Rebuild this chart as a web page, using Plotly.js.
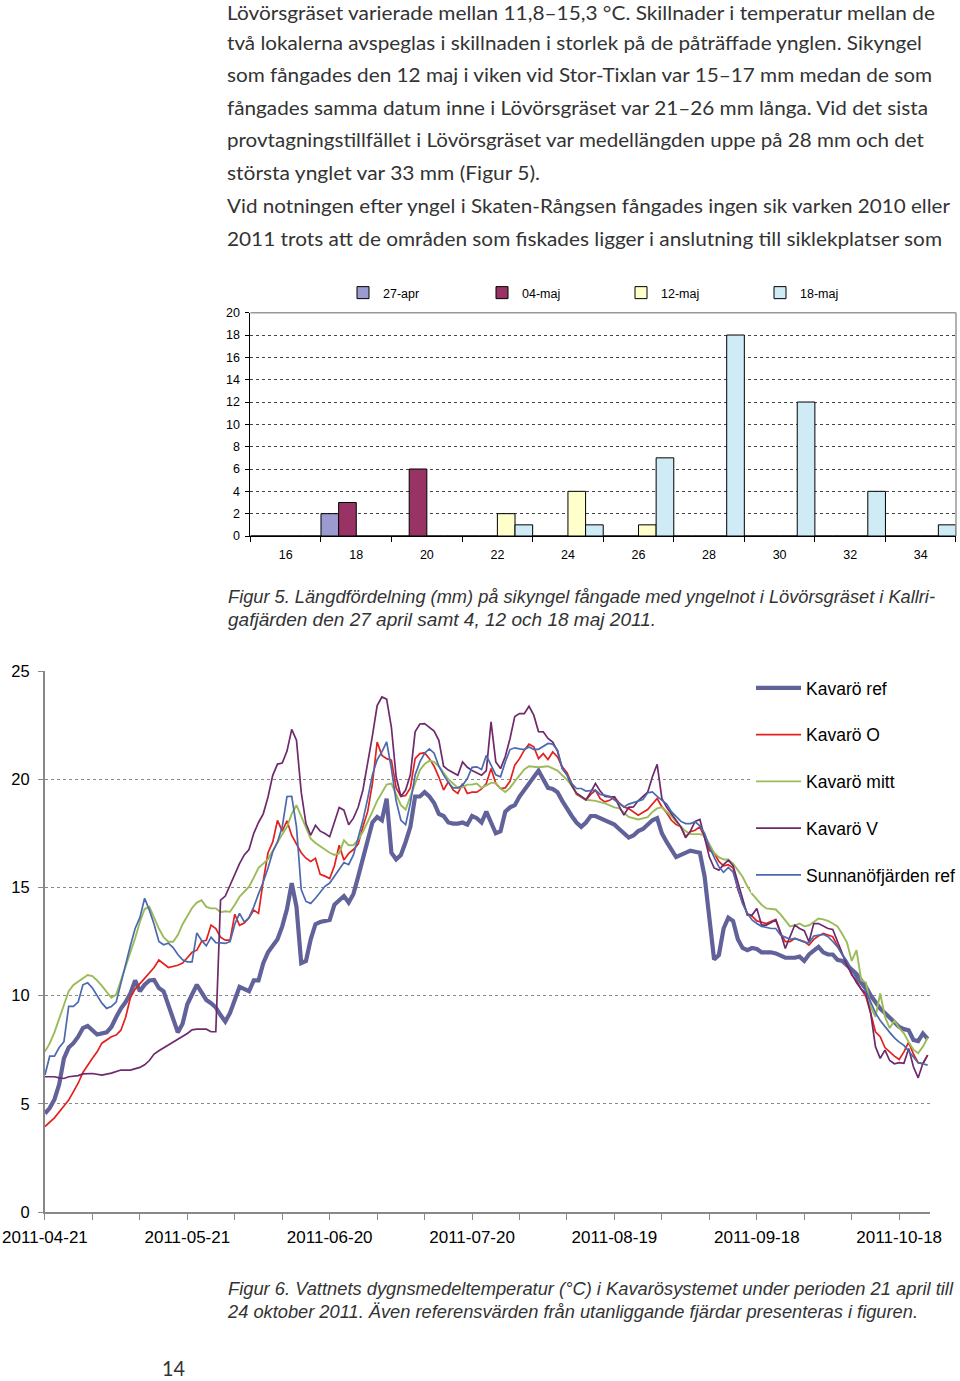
<!DOCTYPE html>
<html><head><meta charset="utf-8">
<script src="https://cdn.plot.ly/plotly-3.0.1.min.js"></script>
<style>
html,body{margin:0;padding:0;background:#fff;}
#page{position:relative;width:960px;height:1381px;overflow:hidden;background:#fff;}
#chart{position:absolute;left:0;top:0;width:960px;height:1381px;}
#txt{position:absolute;left:0;top:0;pointer-events:none;}
</style></head><body>
<div id="page"><div id="chart"></div>
<svg id="txt" width="960" height="1381" xmlns="http://www.w3.org/2000/svg">
 <g font-family="Lato, 'Liberation Sans', sans-serif" font-size="19.5" fill="#333">
  <text x="227" y="19.5" textLength="708" lengthAdjust="spacingAndGlyphs">Lövörsgräset varierade mellan 11,8–15,3 °C. Skillnader i temperatur mellan de</text>
  <text x="227" y="49.5" textLength="695" lengthAdjust="spacingAndGlyphs">två lokalerna avspeglas i skillnaden i storlek på de påträffade ynglen. Sikyngel</text>
  <text x="227" y="82" textLength="705" lengthAdjust="spacingAndGlyphs">som fångades den 12 maj i viken vid Stor-Tixlan var 15–17 mm medan de som</text>
  <text x="227" y="114.5" textLength="701" lengthAdjust="spacingAndGlyphs">fångades samma datum inne i Lövörsgräset var 21–26 mm långa. Vid det sista</text>
  <text x="227" y="147" textLength="697" lengthAdjust="spacingAndGlyphs">provtagningstillfället i Lövörsgräset var medellängden uppe på 28 mm och det</text>
  <text x="227" y="180" textLength="313" lengthAdjust="spacingAndGlyphs">största ynglet var 33 mm (Figur 5).</text>
  <text x="227" y="213" textLength="723" lengthAdjust="spacingAndGlyphs">Vid notningen efter yngel i Skaten-Rångsen fångades ingen sik varken 2010 eller</text>
  <text x="227" y="246" textLength="715" lengthAdjust="spacingAndGlyphs">2011 trots att de områden som fiskades ligger i anslutning till siklekplatser som</text>
 </g>
 <g font-family="'Liberation Sans', Arial, sans-serif" font-style="italic" font-size="18" fill="#333">
  <text x="228" y="603" textLength="707" lengthAdjust="spacingAndGlyphs">Figur 5. Längdfördelning (mm) på sikyngel fångade med yngelnot i Lövörsgräset i Kallri-</text>
  <text x="228" y="626" textLength="428" lengthAdjust="spacingAndGlyphs">gafjärden den 27 april samt 4, 12 och 18 maj 2011.</text>
  <text x="228" y="1295" textLength="725" lengthAdjust="spacingAndGlyphs">Figur 6. Vattnets dygnsmedeltemperatur (°C) i Kavarösystemet under perioden 21 april till</text>
  <text x="228" y="1318" textLength="690" lengthAdjust="spacingAndGlyphs">24 oktober 2011. Även referensvärden från utanliggande fjärdar presenteras i figuren.</text>
 </g>
 <text x="162" y="1376" font-family="Lato, 'Liberation Sans', sans-serif" font-size="20.5" fill="#333" textLength="23" lengthAdjust="spacingAndGlyphs">14</text>
</svg></div>
<script>
// ---------- Figur 5: length distribution (bars) ----------
const barCats = ['16','18','20','22','24','26','28','30','32','34'];
const apr27 = [0,2,0,0,0,0,0,0,0,0];
const maj04 = [0,3,6,0,0,0,0,0,0,0];
const maj12 = [0,0,0,2,4,1,0,0,0,0];
const maj18 = [0,0,0,1,1,7,18,12,4,1];
const barNames = ['27-apr','04-maj','12-maj','18-maj'];

// ---------- Figur 6: daily mean water temperature ----------
// day offsets from 2011-04-21
const refDays = [0,1,2,3,4,5,6,7,8,9,10,11,13,14,15,16,17,18,19,20,21,22,23,24,25,26,27,28,29,30,32,33,34,35,36,37,38,39,40,41,43,44,45,46,47,48,49,50,51,52,53,54,55,56,57,58,60,61,62,63,64,65,66,67,68,69,70,71,72,73,74,75,76,77,78,79,80,81,82,83,84,85,86,87,88,89,90,91,92,93,94,95,96,97,98,99,100,101,102,103,104,105,106,107,108,109,110,111,112,113,114,115,116,117,118,119,120,121,122,123,124,125,126,127,128,129,130,131,132,133,134,135,136,137,138,139,140,141,142,143,144,145,146,147,148,149,150,151,153,154,156,158,159,160,161,163,164,165,166,167,168,169,170,171,172,173,174,175,176,177,178,179,180,181,182,183,184,185,186];
const refVals = [4.55,4.8,5.2,5.9,7.1,7.6,7.8,8.1,8.5,8.6,8.4,8.2,8.3,8.55,9.0,9.4,9.7,10.1,10.7,10.2,10.5,10.7,10.72,10.35,10.2,9.6,8.9,8.3,8.7,9.6,10.5,10.1,9.8,9.65,9.45,9.1,8.8,9.2,9.8,10.4,10.2,10.7,10.7,11.5,12.0,12.3,12.6,13.2,14.0,15.2,14.1,11.5,11.6,12.6,13.3,13.4,13.5,14.2,14.4,14.6,14.3,14.7,15.5,16.4,17.2,18.0,18.25,18.1,19.1,16.6,16.3,16.5,17.1,17.8,19.2,19.2,19.4,19.2,18.9,18.4,18.3,18.0,17.95,17.95,18.0,17.9,18.3,18.2,18.0,18.5,18.0,17.5,17.6,18.5,18.7,18.8,19.2,19.5,19.8,20.1,20.4,20.0,19.6,19.55,19.4,19.0,18.6,18.3,18.0,17.8,18.0,18.3,18.3,18.2,18.05,18.0,17.9,17.7,17.5,17.3,17.4,17.6,17.7,17.9,18.1,18.2,17.5,17.1,16.7,16.4,16.5,16.6,16.7,16.65,16.6,15.5,13.6,11.67,11.87,13.1,13.6,13.45,12.6,12.2,12.1,12.2,12.15,12.0,12.0,11.95,11.75,11.75,11.8,11.6,11.9,12.25,12.0,11.9,11.9,11.65,11.6,11.4,11.2,11.0,10.7,10.4,10.0,9.7,9.4,9.2,9.0,8.75,8.55,8.45,8.4,7.95,7.9,8.25,8.0];

const oDays = [0,2,4,5,7,8,10,11,12,14,15,16,17,18,19,20,21,22,23,24,25,26,28,29,30,31,32,33,34,35,36,37,38,39,40,41,42,43,44,45,46,47,48,49,50,51,52,53,54,55,56,57,58,59,60,61,62,63,64,65,66,67,68,69,70,71,72,73,74,75,76,77,78,79,80,81,82,83,84,85,86,87,88,89,90,91,92,93,94,95,96,97,98,99,100,101,102,103,104,105,106,107,108,109,110,111,112,113,114,115,116,117,118,119,120,121,122,123,125,127,128,129,130,131,132,133,134,135,136,137,138,139,140,141,142,143,144,145,146,147,148,149,150,152,154,155,156,157,158,160,161,162,163,164,165,166,167,168,169,170,171,172,173,174,175,176,177,178,179,180,181,182,183,184,185,186];
const oVals = [3.95,4.35,4.9,5.17,5.95,6.45,7.1,7.4,7.8,8.1,8.18,8.4,9.0,9.9,10.3,10.55,10.8,11.0,11.3,11.64,11.45,11.3,11.4,11.5,11.75,12.0,12.1,12.5,12.56,13.26,13.1,12.7,12.56,12.56,13.76,13.25,13.35,13.6,13.95,13.8,15.3,16.6,17.1,18.1,17.6,18.08,17.4,17.0,16.6,16.35,16.2,16.34,15.6,15.52,15.41,16.0,16.95,16.26,16.57,16.75,17.0,17.8,18.5,19.8,21.72,21.1,20.95,20.88,19.6,19.2,19.25,19.6,20.95,21.18,21.22,20.95,20.6,20.1,19.5,19.88,19.5,19.34,19.8,19.34,19.4,19.4,19.55,19.8,20.49,19.8,19.57,19.6,19.9,20.65,20.95,21.34,21.62,21.5,20.95,21.18,20.91,21.26,21.03,20.57,20.3,19.8,19.3,19.18,19.03,19.3,19.49,19.1,18.95,19.03,19.18,18.9,18.72,18.64,18.34,18.6,18.88,19.11,18.72,18.45,18.1,17.9,17.8,17.34,17.57,17.64,17.8,17.3,16.7,16.6,16.2,16.0,16.05,15.9,14.9,14.3,13.8,13.67,13.45,13.33,13.52,12.9,12.49,12.49,12.64,12.5,12.33,12.6,12.75,12.87,12.8,12.72,12.3,11.9,11.5,10.95,10.7,10.3,9.95,9.18,8.33,8.1,7.6,7.4,7.2,7.05,7.4,7.85,7.3,6.9,6.85,7.25];

const mittDays = [0,1,2,3,4,5,6,7,8,9,10,11,12,13,14,15,16,17,18,19,20,21,22,23,24,25,26,27,28,29,30,31,32,33,34,35,36,37,38,39,40,41,42,43,44,45,46,47,48,49,50,51,52,53,54,55,56,57,58,59,60,61,62,63,64,65,66,67,68,69,70,71,72,73,74,75,76,77,78,79,80,81,82,83,84,85,86,87,88,89,90,91,92,93,94,95,96,97,98,99,100,101,102,104,106,107,108,109,110,111,112,113,114,116,118,120,121,122,123,125,127,128,129,130,131,132,133,134,135,136,138,139,140,141,142,143,144,145,146,147,148,149,150,151,152,154,155,156,157,158,159,160,161,162,163,164,165,166,167,168,169,170,171,172,173,174,175,176,177,178,179,180,181,182,183,184,185,186];
const mittVals = [7.41,7.79,8.3,8.9,9.5,10.2,10.49,10.65,10.8,10.95,10.9,10.7,10.45,10.18,9.9,10.05,10.7,11.3,12.0,12.65,13.4,14.0,14.1,13.6,13.1,12.7,12.49,12.49,12.8,13.3,13.65,14.05,14.3,14.41,14.1,14.03,14.03,13.85,13.9,13.87,14.2,14.57,14.8,15.03,15.45,15.9,16.1,16.3,16.7,17.1,17.45,17.8,18.4,18.8,18.3,17.8,17.25,17.05,16.9,16.75,16.6,16.5,16.57,17.18,16.95,16.95,17.2,17.57,18.0,18.5,19.0,19.4,19.75,19.8,19.34,18.8,18.6,19.2,19.9,20.42,20.7,20.85,20.8,20.6,20.3,20.0,19.8,19.6,19.62,19.75,19.75,19.8,19.6,19.7,19.83,19.83,19.57,19.41,19.6,19.9,20.18,20.45,20.6,20.55,20.6,20.5,20.4,20.18,19.98,19.7,19.35,19.2,19.05,19.0,18.88,18.7,18.65,18.45,18.26,18.14,18.25,18.49,18.65,18.7,18.5,18.3,18.03,17.8,17.6,17.46,17.46,17.4,17.0,16.6,16.4,16.29,16.29,16.1,15.8,15.49,15.05,14.7,14.45,14.2,14.03,13.98,13.75,13.45,13.2,13.25,13.33,13.2,13.25,13.4,13.56,13.52,13.45,13.33,13.2,12.85,12.45,11.6,12.1,10.72,10.6,9.48,9.02,10.1,9.02,8.5,8.85,8.5,8.26,7.85,7.5,7.34,7.64,8.05];

const vDays = [0,2,3,4,5,7,8,10,12,14,16,18,20,21,22,23,24,25,26,27,28,29,30,31,32,34,35,36,37,38,39,40,41,42,43,44,45,46,47,48,49,50,51,52,53,54,55,56,57,58,59,60,61,62,63,64,65,66,67,68,69,70,71,72,73,74,75,76,77,78,79,80,81,82,83,84,85,86,87,88,89,90,91,92,93,94,95,96,97,98,99,100,101,102,103,104,105,106,107,108,109,110,111,112,113,114,115,116,117,118,119,120,121,122,123,124,125,126,127,128,129,130,131,132,133,134,135,136,137,138,139,140,141,142,143,144,145,146,147,148,149,150,151,152,154,155,156,157,158,159,160,161,162,163,164,165,166,167,168,169,170,171,172,173,174,175,176,177,178,179,180,181,182,183,184,185,186];
const vVals = [6.25,6.25,6.2,6.17,6.25,6.3,6.38,6.4,6.33,6.42,6.56,6.56,6.68,6.8,7.0,7.3,7.45,7.58,7.72,7.85,8.0,8.13,8.25,8.42,8.45,8.45,8.33,8.33,14.41,14.6,15.1,15.6,16.1,16.5,16.75,17.5,18.0,18.4,19.18,20.18,20.7,20.75,21.3,22.3,21.8,19.4,17.95,17.41,17.87,17.6,17.49,17.34,18.0,18.69,18.57,17.9,18.2,18.7,19.5,20.7,22.0,23.4,23.8,23.7,22.4,20.11,19.2,19.5,20.2,22.19,22.55,22.57,22.4,22.22,21.8,20.6,20.42,20.3,20.18,20.8,20.55,20.4,20.3,20.18,20.4,22.65,20.8,20.49,21.05,21.88,22.9,23.03,23.03,23.37,22.96,22.2,22.19,21.88,21.72,21.3,20.5,20.2,19.7,19.35,19.2,19.05,19.4,19.8,19.45,19.2,19.18,19.18,18.75,18.34,18.7,18.72,19.0,19.18,19.4,20.11,20.69,19.11,18.7,18.4,18.1,17.8,17.3,17.6,18.05,18.14,17.3,16.4,15.9,15.8,16.05,16.26,16.0,15.2,14.4,13.72,13.72,14.03,13.26,13.26,13.49,12.9,12.18,12.7,13.26,13.1,13.0,12.49,13.33,13.33,13.2,13.1,13.06,12.5,12.0,11.4,11.0,10.6,10.3,10.1,9.18,7.64,7.1,7.48,7.0,6.85,6.9,6.87,7.56,6.71,6.2,6.87,7.25];

const sunDays = [0,1,2,3,4,5,6,7,8,9,10,11,12,13,14,15,16,17,18,19,20,21,22,23,24,25,26,27,28,29,30,31,32,33,34,35,36,37,38,39,40,41,42,43,44,45,46,47,48,49,50,51,52,53,54,55,56,57,58,59,60,61,62,63,64,65,66,67,68,69,70,71,72,73,74,75,76,77,78,79,80,81,82,83,84,85,86,87,88,89,90,91,92,93,94,95,96,97,98,99,100,101,102,103,104,105,106,107,108,109,110,111,112,113,114,116,117,119,120,121,122,123,125,126,127,128,129,130,131,132,133,134,135,136,137,138,139,140,141,142,143,144,145,146,147,148,149,150,151,153,154,155,157,158,160,161,162,164,165,166,167,168,169,170,171,172,173,174,175,176,177,178,179,180,181,182,183,184,185,186];
const sunVals = [6.33,7.2,7.2,7.6,7.87,9.5,9.5,9.7,10.5,10.59,10.35,10.0,9.65,9.41,9.5,9.7,10.6,11.5,12.3,13.1,13.6,14.5,13.95,13.3,12.5,12.35,12.42,12.22,11.9,11.65,11.56,11.56,12.9,12.55,12.3,12.7,12.45,12.44,12.41,12.5,13.3,13.8,13.4,13.6,14.1,14.7,15.25,15.9,16.64,17.1,17.8,19.2,19.21,17.8,14.9,14.35,14.26,14.5,14.75,15.05,15.2,15.5,15.85,16.15,16.05,16.5,17.3,18.1,19.1,20.2,20.9,21.26,21.72,20.49,19.0,18.1,17.9,18.9,20.2,20.8,21.2,21.4,21.2,20.6,20.2,19.85,19.6,19.6,19.72,20.03,20.55,20.57,20.45,21.1,20.65,20.2,20.11,20.8,21.37,21.45,21.4,21.37,21.49,21.38,21.38,21.5,21.65,21.62,21.34,20.49,20.2,19.8,19.57,19.57,19.45,19.49,19.3,19.21,19.05,18.85,18.72,18.85,18.98,19.06,19.37,19.41,19.21,19.03,18.85,18.5,18.26,18.05,17.95,17.95,18.03,17.85,17.5,16.87,16.4,15.95,15.7,15.92,15.7,14.95,14.25,13.8,13.5,13.33,13.2,13.1,13.1,12.8,12.6,12.64,12.47,12.44,12.75,12.83,12.72,12.5,12.25,11.9,11.6,11.2,10.8,10.5,10.2,9.7,9.2,8.85,8.55,8.3,8.05,7.85,7.7,7.45,7.15,6.9,6.85,6.79];

const xTickStart = '2011-04-21';

// ---------- build figure ----------
const START = Date.UTC(2011, 3, 21);
function toDate(d) { return new Date(START + d * 86400000).toISOString().slice(0, 10); }

const W = 960, H = 1381;
const fx = px => px / W, fy = py => 1 - py / H;
const FONT = "'Liberation Sans', Arial, sans-serif";

const barSeries = [apr27, maj04, maj12, maj18];
const barColors = ['#9B9BD2', '#993366', '#FFFFCC', '#CFEBF5'];
const traces = barSeries.map((vals, i) => ({
  type: 'bar', x: barCats, y: vals, name: barNames[i],
  xaxis: 'x', yaxis: 'y', legend: 'legend',
  marker: { color: barColors[i], line: { color: '#000', width: 1 } },
  hoverinfo: 'skip'
}));

const lineDefs = [
  { name: 'Kavarö ref', days: refDays, vals: refVals, color: '#62629A', width: 4.2 },
  { name: 'Kavarö O', days: oDays, vals: oVals, color: '#E3211F', width: 1.7 },
  { name: 'Kavarö mitt', days: mittDays, vals: mittVals, color: '#9BBB59', width: 1.9 },
  { name: 'Kavarö V', days: vDays, vals: vVals, color: '#6E2A6C', width: 1.7 },
  { name: 'Sunnanöfjärden ref', days: sunDays, vals: sunVals, color: '#4A6AAE', width: 1.7 }
];
lineDefs.forEach(s => traces.push({
  type: 'scatter', mode: 'lines', name: s.name,
  x: s.days.map(toDate), y: s.vals,
  xaxis: 'x2', yaxis: 'y2', legend: 'legend2', legendgroup: s.name,
  line: { color: s.color, width: s.width },
  hoverinfo: 'skip'
}));

const DAY = 86400000;
const layout = {
  width: W, height: H, margin: { l: 0, r: 0, t: 0, b: 0, pad: 0 },
  paper_bgcolor: '#fff', plot_bgcolor: 'rgba(0,0,0,0)',
  font: { family: FONT, color: '#000' },
  barmode: 'group', bargap: 0, bargroupgap: 0,
  showlegend: true,
  xaxis: {
    domain: [fx(250.7), fx(957)], anchor: 'y', type: 'category',
    showline: true, linecolor: '#000', linewidth: 1,
    ticks: 'outside', tickson: 'boundaries', ticklen: 5, tickcolor: '#000', tickwidth: 1,
    tickfont: { family: FONT, size: 12.5, color: '#000' }, ticklabelstandoff: 7,
    showgrid: false, zeroline: false, fixedrange: true
  },
  yaxis: {
    domain: [fy(536), fy(312.7)], anchor: 'x', range: [0, 20], dtick: 2,
    showline: true, linecolor: '#000', linewidth: 1,
    ticks: 'outside', ticklen: 4, tickcolor: '#000',
    tickfont: { family: FONT, size: 12.5, color: '#000' }, ticklabelstandoff: 3,
    showgrid: true, gridcolor: '#444', griddash: 'dot', gridwidth: 1,
    zeroline: false, fixedrange: true
  },
  xaxis2: {
    domain: [fx(45), fx(931)], anchor: 'y2', type: 'date',
    range: [xTickStart, toDate(186) + ' 12:00'],
    tick0: xTickStart, dtick: 30 * DAY, tickformat: '%Y-%m-%d',
    ticks: 'outside', ticklen: 6, tickcolor: '#888', tickwidth: 1,
    minor: { tick0: xTickStart, dtick: 10 * DAY, ticks: 'outside', ticklen: 6, tickcolor: '#888', showgrid: false },
    showline: true, linecolor: '#888', linewidth: 2,
    tickfont: { family: FONT, size: 17, color: '#000' }, ticklabelstandoff: 3,
    showgrid: false, zeroline: false, fixedrange: true
  },
  yaxis2: {
    domain: [fy(1212), fy(671)], anchor: 'x2', range: [0, 25], dtick: 5,
    showline: true, linecolor: '#888', linewidth: 2,
    ticks: 'outside', ticklen: 5, tickcolor: '#888',
    tickfont: { family: FONT, size: 16.5, color: '#000' }, ticklabelstandoff: 5,
    showgrid: true, gridcolor: '#888', griddash: 'dot', gridwidth: 1,
    zeroline: false, fixedrange: true
  },
  legend: {
    orientation: 'h', x: fx(343), xanchor: 'left', y: fy(278), yanchor: 'top',
    font: { family: FONT, size: 12.5, color: '#000' }, bgcolor: 'rgba(0,0,0,0)',
    entrywidth: 94, entrywidthmode: 'pixels', itemwidth: 30, traceorder: 'normal'
  },
  legend2: {
    x: fx(752), xanchor: 'left', y: fy(670), yanchor: 'top',
    font: { family: FONT, size: 17.5, color: '#000' }, bgcolor: '#fff',
    tracegroupgap: 21, itemwidth: 45, traceorder: 'grouped'
  },
  shapes: [
    { type: 'line', xref: 'x domain', yref: 'y domain', x0: 0, x1: 1, y0: 1, y1: 1, line: { color: '#999', width: 1.5 } },
    { type: 'line', xref: 'x domain', yref: 'y domain', x0: 1, x1: 1, y0: 0, y1: 1, line: { color: '#999', width: 1.5 } }
  ]
};

Plotly.newPlot('chart', traces, layout, { displayModeBar: false, staticPlot: true });
</script>
</body></html>
